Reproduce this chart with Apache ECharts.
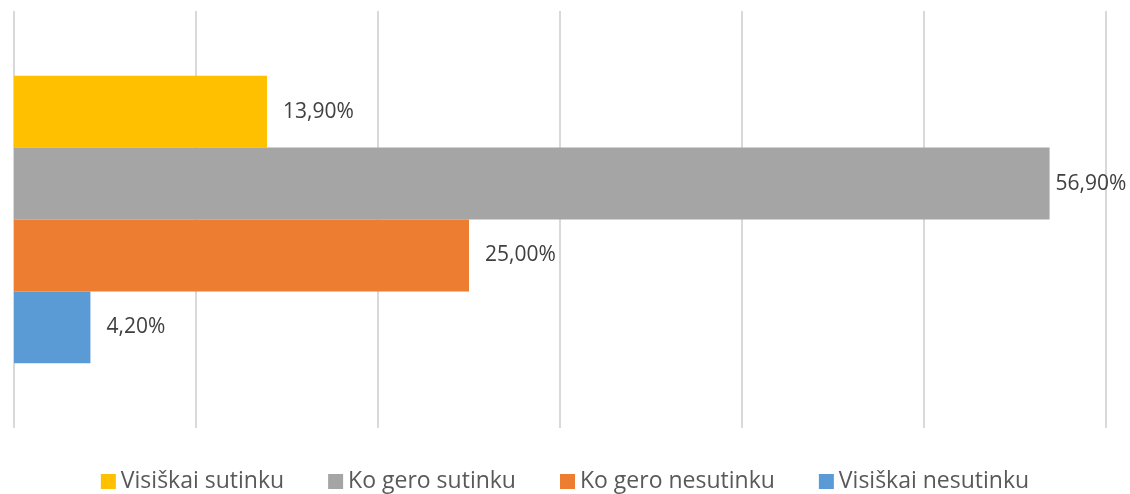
<!DOCTYPE html>
<html>
<head>
<meta charset="utf-8">
<script src="https://cdn.jsdelivr.net/npm/echarts@6/dist/echarts.min.js"></script>
<style>
  html, body { margin: 0; padding: 0; background: #fff; }
  #chart { width: 1130px; height: 494px; }
</style>
</head>
<body>
<div id="chart"></div>
<script>
// Survey answers, percent of respondents
const seriesNames = ['Visiškai sutinku', 'Ko gero sutinku', 'Ko gero nesutinku', 'Visiškai nesutinku'];
const seriesValues = [13.9, 56.9, 25.0, 4.2];
const seriesColors = ['#FFC000', '#A5A5A5', '#ED7D31', '#5B9BD5'];
const categories = [''];

const FONT = '"Open Sans", "Liberation Sans", sans-serif';
const AXIS_MAX = 60;

const chart = echarts.init(document.getElementById('chart'));

const series = seriesNames.map((name, i) => ({
  name: name,
  type: 'bar',
  data: [seriesValues[i]],
  itemStyle: { color: seriesColors[i] },
  barGap: '0%',
  barCategoryGap: '31%',
  label: {
    show: true,
    position: 'right',
    // labels near the right edge are pulled closer to their bar so they fit
    distance: seriesValues[i] > AXIS_MAX * 0.85 ? 6 : 16,
    color: '#404040',
    fontFamily: FONT,
    fontSize: 21,
    formatter: p => p.value.toFixed(2).replace('.', ',') + '%'
  },
  animation: false
}));

chart.setOption({
  animation: false,
  grid: { left: 14, right: 24, top: 11, bottom: 66, containLabel: false },
  xAxis: {
    type: 'value',
    min: 0,
    max: AXIS_MAX,
    interval: 10,
    axisLine: { show: false },
    axisTick: { show: false },
    axisLabel: { show: false },
    splitLine: { show: true, lineStyle: { color: '#d9d9d9', width: 2 } }
  },
  yAxis: {
    type: 'category',
    data: categories,
    inverse: true,
    axisLine: { show: false },
    axisTick: { show: false },
    axisLabel: { show: false },
    splitLine: { show: false }
  },
  legend: {
    top: 465,
    left: 'center',
    icon: 'rect',
    itemWidth: 15,
    itemHeight: 15,
    itemGap: 44,
    textStyle: { color: '#595959', fontFamily: FONT, fontSize: 23 },
    data: seriesNames
  },
  series: series
});
</script>
</body>
</html>
